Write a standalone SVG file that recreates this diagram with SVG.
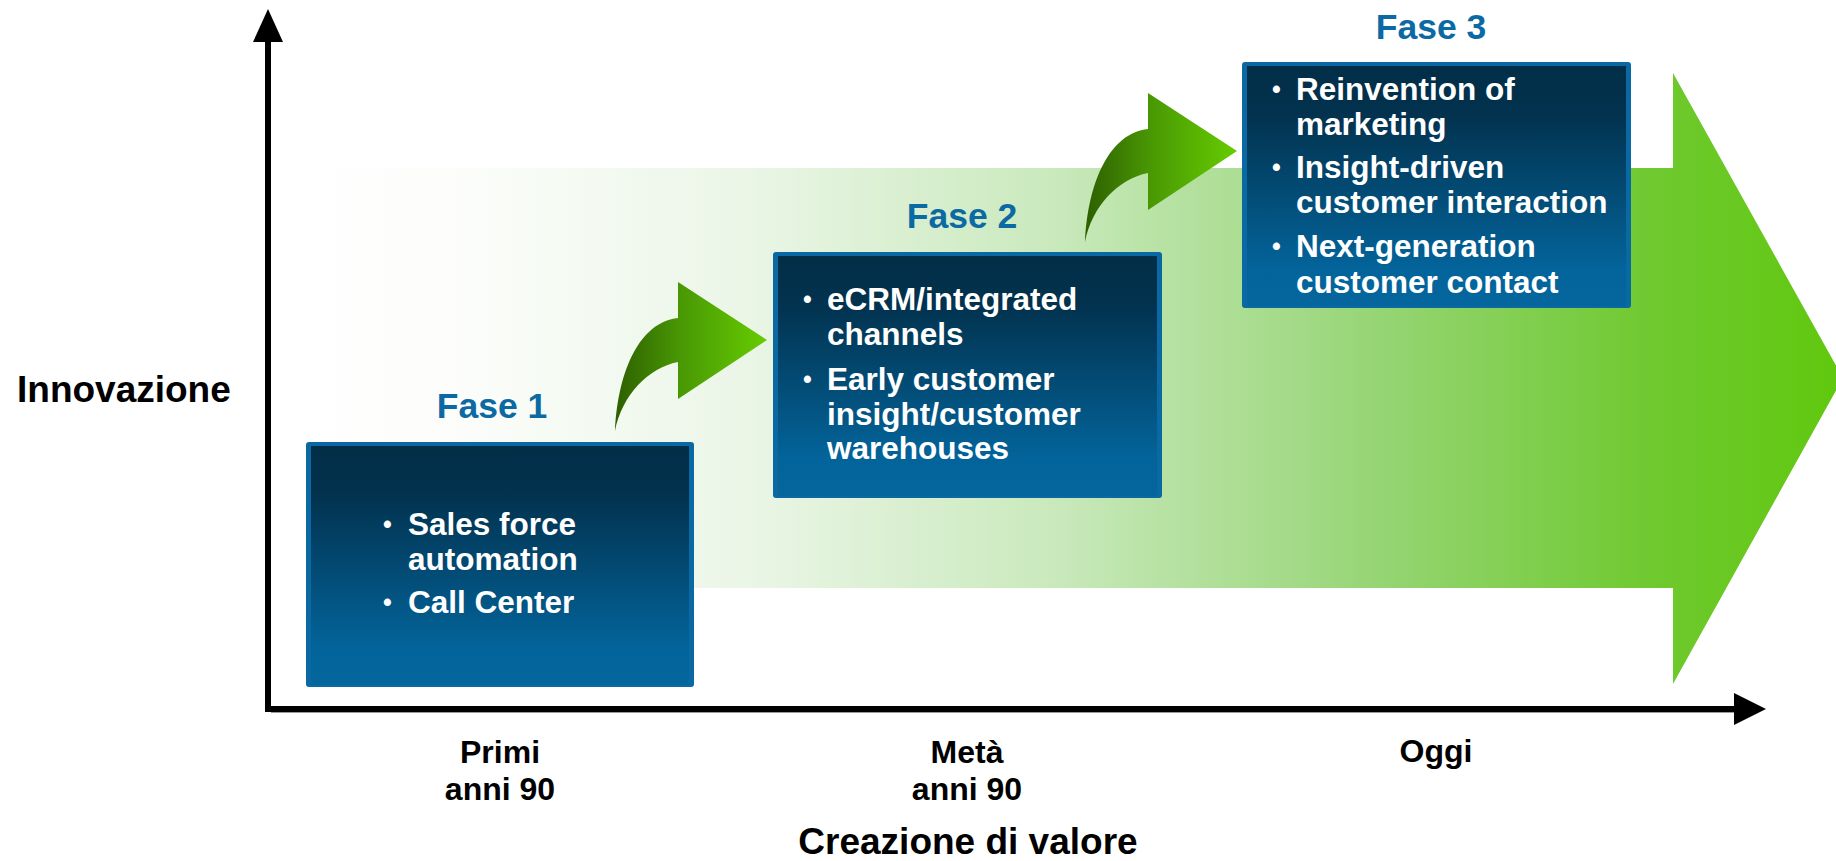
<svg xmlns="http://www.w3.org/2000/svg" width="1836" height="861" viewBox="0 0 1836 861">
<defs>
<linearGradient id="bigG" x1="268" y1="0" x2="1843" y2="0" gradientUnits="userSpaceOnUse">
<stop offset="0" stop-color="#ffffff"/>
<stop offset="0.12" stop-color="#fcfdfb"/>
<stop offset="0.3" stop-color="#ebf6e7"/>
<stop offset="0.5" stop-color="#c9e9bc"/>
<stop offset="0.7" stop-color="#97d576"/>
<stop offset="0.88" stop-color="#6fc92f"/>
<stop offset="1" stop-color="#60c80e"/>
</linearGradient>
<linearGradient id="curG" x1="0" y1="0" x2="1" y2="0">
<stop offset="0" stop-color="#2d5f00"/>
<stop offset="0.45" stop-color="#4a9a04"/>
<stop offset="1" stop-color="#66cc00"/>
</linearGradient>
<linearGradient id="boxG" x1="0" y1="0" x2="0" y2="1">
<stop offset="0" stop-color="#022e47"/>
<stop offset="0.2" stop-color="#02324e"/>
<stop offset="0.85" stop-color="#03649b"/>
<stop offset="1" stop-color="#05669e"/>
</linearGradient>
<path id="curve" d="M0,0 C3,-61 25,-109 63,-113 L63,-149 L152,-91 L63,-32 L63,-69 C33,-63 7,-36 0,0 Z"/>
</defs>
<style>
.t{font-family:"Liberation Sans",Arial,sans-serif;font-weight:bold}
.ax{font-size:32px;fill:#000;text-anchor:middle}
.big{font-size:37px;fill:#000}
.fase{font-size:35.5px;fill:#0b69a3;text-anchor:middle}
.bt{font-size:31.5px;fill:#ffffff}
.bu{font-size:25px;fill:#ffffff}
.frame{fill:#0a69a3}
.inner{fill:url(#boxG)}
</style>

<g id="growth-arrow">
<polygon points="271,168 1673,168 1673,73 1843,378 1673,684 1673,588 271,588" fill="url(#bigG)"/>
</g>

<g id="axes">
<path d="M268,40 L268,709 L1736,709" fill="none" stroke="#000" stroke-width="6" stroke-linejoin="miter"/>
<line x1="271" y1="712.5" x2="1736" y2="712.5" stroke="#9a9a9a" stroke-width="1"/>
<polygon points="268,9 253,42 283,42" fill="#000"/>
<polygon points="1766,709 1734,693 1734,725" fill="#000"/>
</g>

<g id="connectors">
<use href="#curve" transform="translate(615,431)" fill="url(#curG)"/>
<use href="#curve" transform="translate(1085,242)" fill="url(#curG)"/>
</g>

<g id="fase1">
<text class="t fase" x="492" y="418">Fase 1</text>
<rect class="frame" x="306" y="442" width="388" height="245" rx="3"/>
<rect class="inner" x="311" y="446" width="378" height="239"/>
<text class="t bu" x="383" y="533">•</text>
<text class="t bt" x="408" y="535">Sales force</text>
<text class="t bt" x="408" y="570">automation</text>
<text class="t bu" x="383" y="611">•</text>
<text class="t bt" x="408" y="613">Call Center</text>
</g>

<g id="fase2">
<text class="t fase" x="962" y="228">Fase 2</text>
<rect class="frame" x="773" y="252" width="389" height="246" rx="3"/>
<rect class="inner" x="778" y="256" width="379" height="240"/>
<text class="t bu" x="803" y="308">•</text>
<text class="t bt" x="827" y="310">eCRM/integrated</text>
<text class="t bt" x="827" y="345">channels</text>
<text class="t bu" x="803" y="388">•</text>
<text class="t bt" x="827" y="390">Early customer</text>
<text class="t bt" x="827" y="425">insight/customer</text>
<text class="t bt" x="827" y="459">warehouses</text>
</g>

<g id="fase3">
<text class="t fase" x="1431" y="39">Fase 3</text>
<rect class="frame" x="1242" y="62" width="389" height="246" rx="3"/>
<rect class="inner" x="1247" y="66" width="379" height="240"/>
<text class="t bu" x="1272" y="98">•</text>
<text class="t bt" x="1296" y="100">Reinvention of</text>
<text class="t bt" x="1296" y="135">marketing</text>
<text class="t bu" x="1272" y="176">•</text>
<text class="t bt" x="1296" y="178">Insight-driven</text>
<text class="t bt" x="1296" y="213">customer interaction</text>
<text class="t bu" x="1272" y="255">•</text>
<text class="t bt" x="1296" y="257">Next-generation</text>
<text class="t bt" x="1296" y="293">customer contact</text>
</g>

<g id="labels">
<text class="t big" x="17" y="402">Innovazione</text>
<text class="t ax" x="500" y="763">Primi</text>
<text class="t ax" x="500" y="800">anni 90</text>
<text class="t ax" x="967" y="763">Metà</text>
<text class="t ax" x="967" y="800">anni 90</text>
<text class="t ax" x="1436" y="762">Oggi</text>
<text class="t big" x="968" y="854" text-anchor="middle">Creazione di valore</text>
</g>
</svg>
